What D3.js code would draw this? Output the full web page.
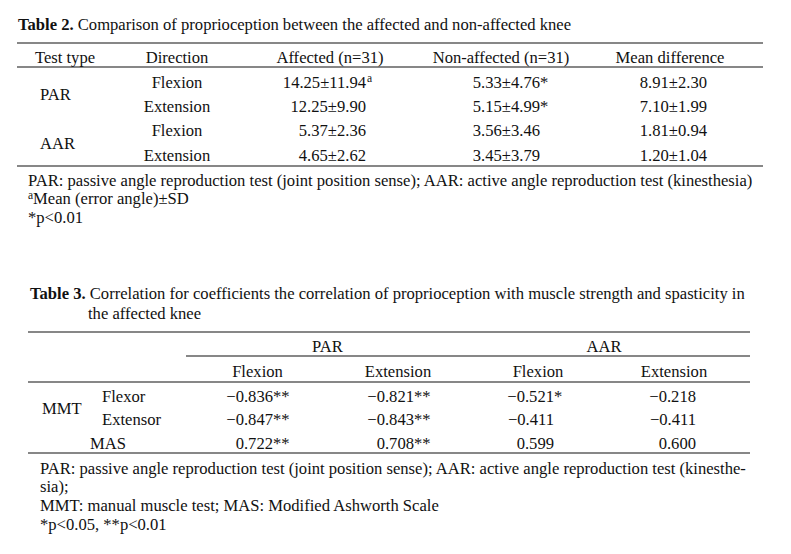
<!DOCTYPE html>
<html>
<head>
<meta charset="utf-8">
<script src="https://cdn.jsdelivr.net/npm/d3@7"></script>
<style>
  html, body { margin: 0; padding: 0; background: #fff; }
  svg { display: block; }
  text { font-family: "Liberation Serif", "Times New Roman", serif; font-size: 16.6px; fill: #111; }
</style>
</head>
<body>
<svg id="chart" width="791" height="554"></svg>
<script>
// ---------------- DATA ----------------
// Table 2
const t2Title = "Comparison of proprioception between the affected and non-affected knee";
const t2Columns = ["Test type", "Direction", "Affected (n=31)", "Non-affected (n=31)", "Mean difference"];
const t2Tests = ["PAR", "AAR"];
const t2Directions = ["Flexion", "Extension", "Flexion", "Extension"];
const t2Affected = ["14.25±11.94", "12.25±9.90", "5.37±2.36", "4.65±2.62"];
const t2AffectedMarks = ["a", "", "", ""];
const t2NonAffected = ["5.33±4.76", "5.15±4.99", "3.56±3.46", "3.45±3.79"];
const t2NonAffectedMarks = ["*", "*", "", ""];
const t2MeanDiff = ["8.91±2.30", "7.10±1.99", "1.81±0.94", "1.20±1.04"];
const t2Notes = [
  "PAR: passive angle reproduction test (joint position sense); AAR: active angle reproduction test (kinesthesia)",
  "Mean (error angle)±SD",
  "*p<0.01"
];

// Table 3
const t3TitleLines = [
  "Correlation for coefficients the correlation of proprioception with muscle strength and spasticity in",
  "the affected knee"
];
const t3Groups = ["PAR", "AAR"];
const t3SubColumns = ["Flexion", "Extension", "Flexion", "Extension"];
const t3RowGroup = "MMT";
const t3RowLabels = ["Flexor", "Extensor", "MAS"];
const t3Values = [
  [-0.836, -0.821, -0.521, -0.218],
  [-0.847, -0.843, -0.411, -0.411],
  [0.722, 0.708, 0.599, 0.600]
];
const t3Marks = [
  ["**", "**", "*", ""],
  ["**", "**", "", ""],
  ["**", "**", "", ""]
];
const t3Notes = [
  "PAR: passive angle reproduction test (joint position sense); AAR: active angle reproduction test (kinesthe-",
  "sia);",
  "MMT: manual muscle test; MAS: Modified Ashworth Scale",
  "*p<0.05, **p<0.01"
];

// ---------------- DRAW ----------------
const svg = d3.select("#chart");
const ink = "#111";
const fmt = d3.format(".3f");

function rule(g, x1, x2, y) {
  g.append("line").attr("x1", x1).attr("x2", x2).attr("y1", y).attr("y2", y)
    .attr("stroke", ink).attr("stroke-width", 1.2);
}
function txt(g, x, y, s, anchor) {
  return g.append("text").attr("x", x).attr("y", y).attr("dy", "0.35em")
    .attr("text-anchor", anchor || "start").text(s);
}

// ===== Table 2 =====
const t2 = svg.append("g");
const title2 = t2.append("text").attr("x", 18).attr("y", 24).attr("dy", "0.35em");
title2.append("tspan").attr("font-weight", "bold").text("Table 2.");
title2.append("tspan").text(" " + t2Title);

const t2HeaderX = d3.scaleOrdinal().domain(t2Columns).range([65, 177, 330, 501, 670]);
const t2Row = d3.scalePoint().domain(d3.range(t2Directions.length)).range([82, 155]);
const t2ValueRight = d3.scaleOrdinal().domain(["aff", "non", "diff"]).range([366, 540, 707]);

rule(t2, 17, 763, 43);
rule(t2, 17, 763, 67);
rule(t2, 17, 763, 166);

t2Columns.forEach(c => txt(t2, t2HeaderX(c), 57, c, "middle"));

t2Tests.forEach((t, i) => {
  const y = (t2Row(i * 2) + t2Row(i * 2 + 1)) / 2;
  txt(t2, 40, y, t, "start");
});

t2Directions.forEach((d, i) => txt(t2, t2HeaderX("Direction"), t2Row(i), d, "middle"));

t2Affected.forEach((v, i) => {
  const x = t2ValueRight("aff");
  txt(t2, x, t2Row(i), v, "end");
  if (t2AffectedMarks[i]) {
    t2.append("text").attr("x", x + 1).attr("y", t2Row(i) - 4).attr("dy", "0.35em")
      .style("font-size", "11.5px").text(t2AffectedMarks[i]);
  }
});
t2NonAffected.forEach((v, i) => {
  const x = t2ValueRight("non");
  txt(t2, x, t2Row(i), v, "end");
  if (t2NonAffectedMarks[i]) txt(t2, x, t2Row(i), t2NonAffectedMarks[i], "start");
});
t2MeanDiff.forEach((v, i) => txt(t2, t2ValueRight("diff"), t2Row(i), v, "end"));

const t2NoteY = d3.scalePoint().domain(d3.range(t2Notes.length)).range([180, 217]);
t2Notes.forEach((n, i) => {
  const t = t2.append("text").attr("x", 28).attr("y", t2NoteY(i)).attr("dy", "0.35em");
  if (i === 1) {
    t.append("tspan").style("font-size", "11.5px").attr("baseline-shift", "5").text("a");
  }
  t.append("tspan").attr("baseline-shift", "0").text(n);
});

// ===== Table 3 =====
const t3 = svg.append("g");
const title3 = t3.append("text").attr("x", 30).attr("y", 293).attr("dy", "0.35em");
title3.append("tspan").attr("font-weight", "bold").text("Table 3.");
title3.append("tspan").text(" " + t3TitleLines[0]);
txt(t3, 88, 313, t3TitleLines[1], "start");

rule(t3, 28, 750, 332);
rule(t3, 186, 750, 356);
rule(t3, 28, 750, 382);
rule(t3, 28, 750, 453);

const t3GroupX = d3.scaleOrdinal().domain(t3Groups).range([327.5, 604]);
t3Groups.forEach(g => txt(t3, t3GroupX(g), 346, g, "middle"));

const colIdx = d3.range(t3SubColumns.length);
const t3SubX = d3.scaleOrdinal().domain(colIdx).range([257.5, 398, 538, 674]);
const t3ValRight = d3.scaleOrdinal().domain(colIdx).range([273, 414, 554, 696]);
t3SubColumns.forEach((c, j) => txt(t3, t3SubX(j), 371, c, "middle"));

const t3Row = d3.scalePoint().domain(d3.range(t3RowLabels.length)).range([396, 443]);
txt(t3, 42, (t3Row(0) + t3Row(1)) / 2, t3RowGroup, "start");
const t3LabelX = [102, 102, 90];
t3RowLabels.forEach((r, i) => txt(t3, t3LabelX[i], t3Row(i), r, "start"));

t3Values.forEach((row, i) => {
  row.forEach((v, j) => {
    const x = t3ValRight(j);
    txt(t3, x, t3Row(i), fmt(v), "end");
    if (t3Marks[i][j]) txt(t3, x, t3Row(i), t3Marks[i][j], "start");
  });
});

const t3NoteY = d3.scalePoint().domain(d3.range(t3Notes.length)).range([468, 524]);
t3Notes.forEach((n, i) => txt(t3, 40, t3NoteY(i), n, "start"));
</script>
</body>
</html>
